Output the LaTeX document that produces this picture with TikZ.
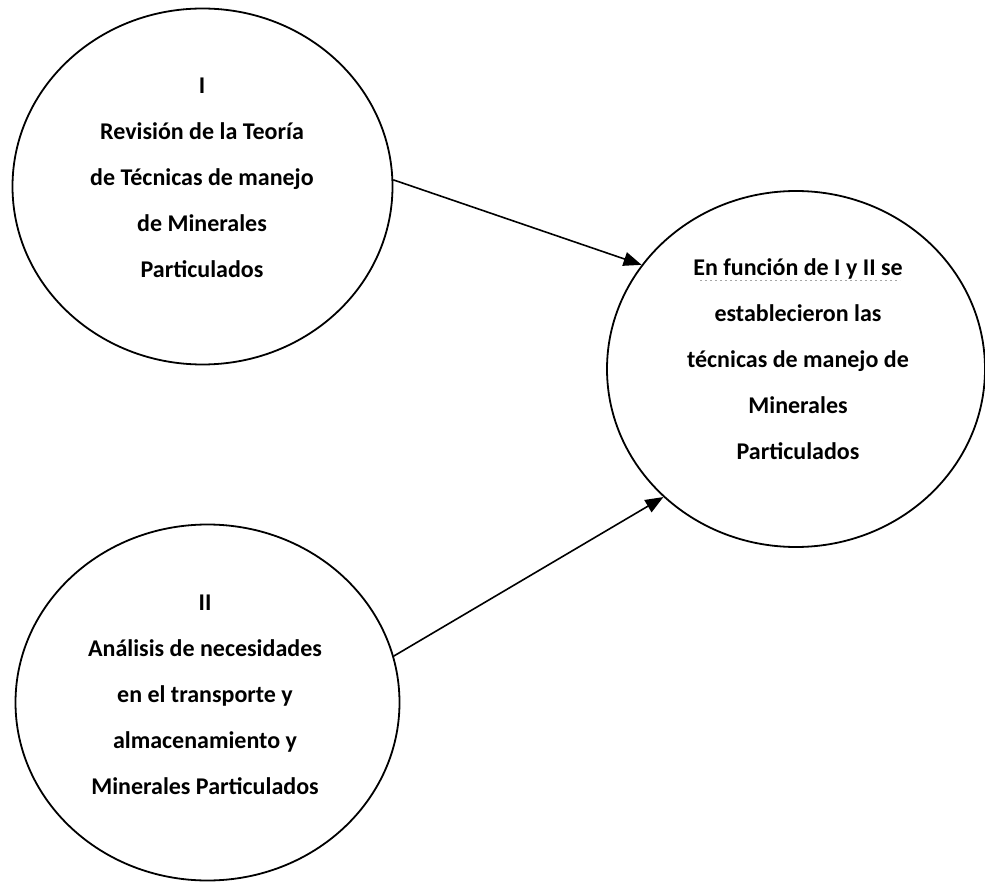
\documentclass[tikz,border=0pt]{standalone}
\usepackage{fontspec}
\setmainfont{Carlito}
\usetikzlibrary{shapes.geometric,arrows.meta}
\begin{document}
\begin{tikzpicture}[x=1pt,y=-1pt,
  bubble/.style={draw, ellipse, line width=1.8pt, inner sep=0pt,
    minimum width=#1*2pt, minimum height=356pt},
  bubble/.default=190,
  label text/.style={align=center, inner sep=0pt,
    font=\fontsize{24}{46}\selectfont\bfseries},
  flow/.style={line width=1.6pt, -{Triangle[length=18pt,width=14pt]}}
]
\useasboundingbox (0,0) rectangle (985,882);

% the three stages
\node[bubble=190] (teoria) at (202.5,186.5) {};
\node[bubble=192] (analisis) at (207.5,702.5) {};
\node[bubble=189] (tecnicas) at (796,369) {};

\node[label text] (teoriaT) at (202,178) {I\\Revisión de la Teoría\\de Técnicas de manejo\\de Minerales\\Particulados};
\node[label text] (analisisT) at (205,695) {II\\Análisis de necesidades\\en el transporte y\\almacenamiento y\\Minerales Particulados};
\node[label text] (tecnicasT) at (798,359) {En función de I y II se\\establecieron las\\técnicas de manejo de\\Minerales\\Particulados};

% faint dotted underline below the first line of the result
\coordinate (ulA) at (700,280);
\coordinate (ulB) at (900,280);
\draw[gray!70, line width=0.8pt, dash pattern=on 2pt off 3pt] (ulA) -- (ulB);

% connectors
\draw[flow] (teoria.2) -- (tecnicas.146.5);
\draw[flow] (analisis.14.4) -- (tecnicas.224.4);
\end{tikzpicture}
\end{document}
